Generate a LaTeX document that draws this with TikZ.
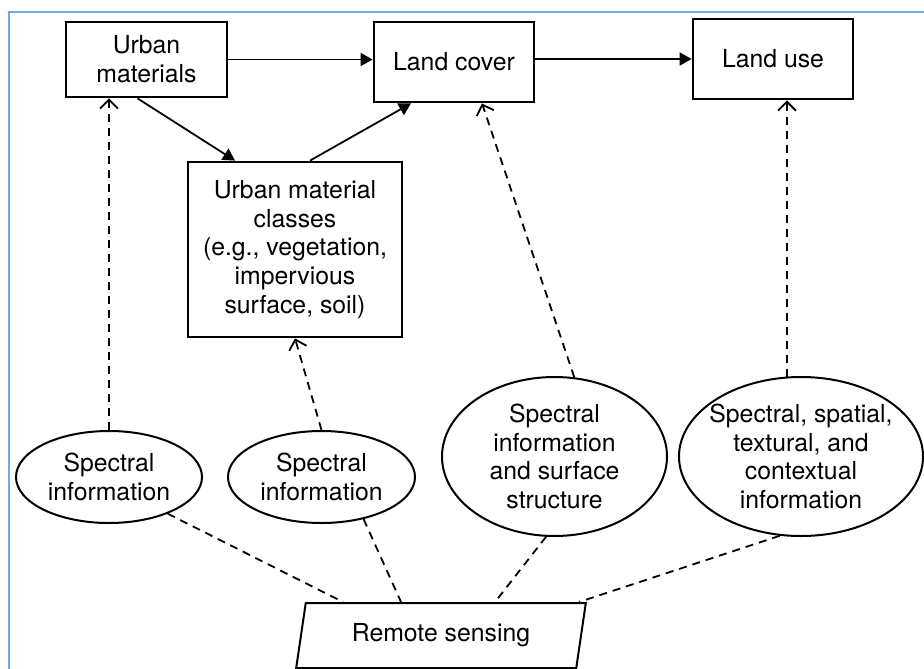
\documentclass[tikz,border=0pt]{standalone}
\usepackage{fontspec}
\setmainfont{TeX Gyre Heros}
\usetikzlibrary{shapes.geometric,arrows.meta}
\definecolor{framecol}{RGB}{116,168,228}
\tikzset{
  box/.style={draw,line width=1.4pt,align=center,inner sep=0pt,font=\fontsize{12.4}{14.4}\selectfont},
  info/.style={ellipse,draw,line width=1pt,align=center,inner sep=0pt,font=\fontsize{12.4}{14.4}\selectfont},
  sensor/.style={trapezium,trapezium left angle=75,trapezium right angle=105,trapezium stretches=true,draw,line width=1pt,inner sep=0pt,font=\fontsize{12.4}{14.4}\selectfont},
  flow/.style={line width=0.9pt,-{Triangle[length=6pt,width=6.5pt]}},
  feed/.style={line width=0.9pt,dash pattern=on 4pt off 3pt,-{Straight Barb[length=4.5pt,width=9pt]}},
  link/.style={line width=0.9pt,dash pattern=on 4pt off 3pt},
}
\begin{document}
\begin{tikzpicture}[x=0.5pt,y=-0.5pt]
    \useasboundingbox (0,0) rectangle (924,668);
    \draw[framecol,line width=1pt] (9,12) rectangle (940,690);
    \node[box,minimum width=80.5pt,minimum height=37.5pt] (um) at (146.5,59.5) {Urban\\materials};
    \node[box,minimum width=80pt,minimum height=40pt] (lc) at (454,62) {Land cover};
    \node[box,minimum width=80pt,minimum height=40pt] (lu) at (773,59) {Land use};
    \node[box,minimum width=107pt,minimum height=87.5pt] (cls) at (295,249.5) {Urban material\\classes\\(e.g., vegetation,\\impervious\\surface, soil)};
    \node[info,minimum width=93pt,minimum height=46pt] (e1) at (109,477) {Spectral\\information};
    \node[info,minimum width=93.5pt,minimum height=46pt] (e2) at (321.5,477) {Spectral\\information};
    \node[info,minimum width=112.5pt,minimum height=79.5pt] (e3) at (554.5,456.5) {Spectral\\information\\and surface\\structure};
    \node[info,inner xsep=-6pt,minimum width=122pt,minimum height=79.5pt] (e4) at (801,456.5) {Spectral, spatial,\\textural, and\\contextual\\information};
    \node[sensor,minimum width=146pt,minimum height=32.5pt] (rs) at (441,635.5) {Remote sensing};
    \draw[flow] (um.east) -- (um.east -| lc.west);
    \draw[flow] (lu.west -| lc.east) -- (lu.west);
    \draw[flow] ([xshift=-4.5pt]um.south) -- ([xshift=-30pt]cls.north);
    \draw[flow] ([xshift=7.5pt]cls.north) -- ([xshift=-21.5pt]lc.south);
    \draw[feed] (e1.north) -- (e1.north |- um.south);
    \draw[feed] (e2.north) -- (cls.south);
    \draw[feed] (e3.76) -- ([xshift=14pt]lc.south);
    \draw[feed] (e4.100) -- (e4.100 |- lu.south);
    \draw[link] (e1.-32) -- ([xshift=-49pt]rs.north);
    \draw[link] (e2.-45) -- ([xshift=-20pt]rs.north);
    \draw[link] (e3.-96) -- ([xshift=27pt]rs.north);
    \draw[link] (e4.-105) -- ([xshift=69pt]rs.north);
\end{tikzpicture}
\end{document}
